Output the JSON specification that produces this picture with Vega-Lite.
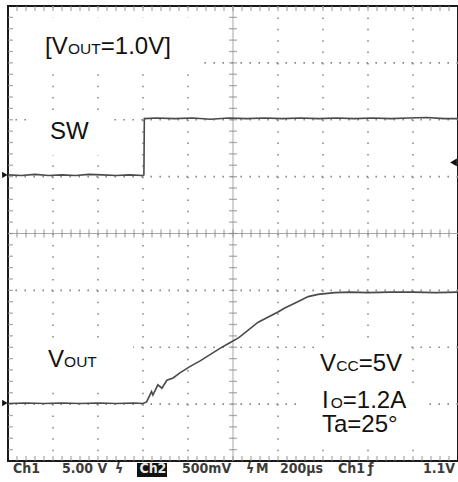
{
  "$schema": "https://vega.github.io/schema/vega-lite/v6.json",
  "width": 450,
  "height": 455,
  "autosize": {"type": "none"},
  "padding": {"left": 8, "top": 6, "right": 0, "bottom": 21},
  "background": "white",
  "config": {
    "view": {"stroke": "#1a1a1a", "strokeWidth": 2}
  },
  "datasets": {
    "vgrid": [{"x": 1}, {"x": 2}, {"x": 3}, {"x": 4}, {"x": 6}, {"x": 7}, {"x": 8}, {"x": 9}],
    "hgrid": [{"y": 1}, {"y": 2}, {"y": 3}, {"y": 5}, {"y": 6}, {"y": 7}],
    "centers": [{"x": 5, "y": 4}],
    "xt": [{"p":0.2},{"p":0.4},{"p":0.6},{"p":0.8},{"p":1},{"p":1.2},{"p":1.4},{"p":1.6},{"p":1.8},{"p":2},{"p":2.2},{"p":2.4},{"p":2.6},{"p":2.8},{"p":3},{"p":3.2},{"p":3.4},{"p":3.6},{"p":3.8},{"p":4},{"p":4.2},{"p":4.4},{"p":4.6},{"p":4.8},{"p":5.2},{"p":5.4},{"p":5.6},{"p":5.8},{"p":6},{"p":6.2},{"p":6.4},{"p":6.6},{"p":6.8},{"p":7},{"p":7.2},{"p":7.4},{"p":7.6},{"p":7.8},{"p":8},{"p":8.2},{"p":8.4},{"p":8.6},{"p":8.8},{"p":9},{"p":9.2},{"p":9.4},{"p":9.6},{"p":9.8},{"p":5}],
    "yt": [{"p":0.2},{"p":0.4},{"p":0.6},{"p":0.8},{"p":1},{"p":1.2},{"p":1.4},{"p":1.6},{"p":1.8},{"p":2},{"p":2.2},{"p":2.4},{"p":2.6},{"p":2.8},{"p":3},{"p":3.2},{"p":3.4},{"p":3.6},{"p":3.8},{"p":4.2},{"p":4.4},{"p":4.6},{"p":4.8},{"p":5},{"p":5.2},{"p":5.4},{"p":5.6},{"p":5.8},{"p":6},{"p":6.2},{"p":6.4},{"p":6.6},{"p":6.8},{"p":7},{"p":7.2},{"p":7.4},{"p":7.6},{"p":7.8},{"p":4}],
    "boxes": [
      {"x": 0.15, "x2": 4.2, "y": 7.8, "y2": 6.93},
      {"x": 0.53, "x2": 2.22, "y": 6.12, "y2": 5.38},
      {"x": 0.15, "x2": 2.78, "y": 2.09, "y2": 1.37},
      {"x": 6.82, "x2": 8.93, "y": 2.07, "y2": 1.34},
      {"x": 6.49, "x2": 9.22, "y": 1.34, "y2": 0.25}
    ],
    "traces": [
      {"ch": "SW", "t": 0, "v": 5.03}, {"ch": "SW", "t": 0.3, "v": 5.02}, {"ch": "SW", "t": 0.6, "v": 5.04},
      {"ch": "SW", "t": 0.9, "v": 5.02}, {"ch": "SW", "t": 1.2, "v": 5.03}, {"ch": "SW", "t": 1.5, "v": 5.02},
      {"ch": "SW", "t": 1.8, "v": 5.04}, {"ch": "SW", "t": 2.1, "v": 5.03}, {"ch": "SW", "t": 2.4, "v": 5.02},
      {"ch": "SW", "t": 2.7, "v": 5.03}, {"ch": "SW", "t": 3.0, "v": 5.02}, {"ch": "SW", "t": 3.02, "v": 5.03},
      {"ch": "SW", "t": 3.03, "v": 6.02}, {"ch": "SW", "t": 3.3, "v": 6.03}, {"ch": "SW", "t": 3.7, "v": 6.02},
      {"ch": "SW", "t": 4.1, "v": 6.03}, {"ch": "SW", "t": 4.5, "v": 6.01}, {"ch": "SW", "t": 4.9, "v": 6.03},
      {"ch": "SW", "t": 5.3, "v": 6.02}, {"ch": "SW", "t": 5.7, "v": 6.03}, {"ch": "SW", "t": 6.1, "v": 6.02},
      {"ch": "SW", "t": 6.5, "v": 6.03}, {"ch": "SW", "t": 6.9, "v": 6.02}, {"ch": "SW", "t": 7.3, "v": 6.03},
      {"ch": "SW", "t": 7.7, "v": 6.02}, {"ch": "SW", "t": 8.1, "v": 6.03}, {"ch": "SW", "t": 8.5, "v": 6.02},
      {"ch": "SW", "t": 8.9, "v": 6.03}, {"ch": "SW", "t": 9.3, "v": 6.04}, {"ch": "SW", "t": 9.7, "v": 6.02},
      {"ch": "SW", "t": 10, "v": 6.02},
      {"ch": "VOUT", "t": 0, "v": 1.01}, {"ch": "VOUT", "t": 0.4, "v": 1.02}, {"ch": "VOUT", "t": 0.8, "v": 1.01},
      {"ch": "VOUT", "t": 1.2, "v": 1.02}, {"ch": "VOUT", "t": 1.6, "v": 1.01}, {"ch": "VOUT", "t": 2.0, "v": 1.02},
      {"ch": "VOUT", "t": 2.4, "v": 1.01}, {"ch": "VOUT", "t": 2.8, "v": 1.02}, {"ch": "VOUT", "t": 3.0, "v": 1.01},
      {"ch": "VOUT", "t": 3.08, "v": 1.04}, {"ch": "VOUT", "t": 3.19, "v": 1.22}, {"ch": "VOUT", "t": 3.22, "v": 1.16},
      {"ch": "VOUT", "t": 3.33, "v": 1.34}, {"ch": "VOUT", "t": 3.42, "v": 1.28}, {"ch": "VOUT", "t": 3.53, "v": 1.42},
      {"ch": "VOUT", "t": 3.67, "v": 1.46}, {"ch": "VOUT", "t": 3.82, "v": 1.55}, {"ch": "VOUT", "t": 4.04, "v": 1.66},
      {"ch": "VOUT", "t": 4.27, "v": 1.76}, {"ch": "VOUT", "t": 4.49, "v": 1.87}, {"ch": "VOUT", "t": 4.71, "v": 1.98},
      {"ch": "VOUT", "t": 4.93, "v": 2.08}, {"ch": "VOUT", "t": 5.13, "v": 2.17}, {"ch": "VOUT", "t": 5.56, "v": 2.44},
      {"ch": "VOUT", "t": 6.0, "v": 2.62}, {"ch": "VOUT", "t": 6.15, "v": 2.69}, {"ch": "VOUT", "t": 6.44, "v": 2.80},
      {"ch": "VOUT", "t": 6.67, "v": 2.89}, {"ch": "VOUT", "t": 6.89, "v": 2.93}, {"ch": "VOUT", "t": 7.26, "v": 2.96},
      {"ch": "VOUT", "t": 7.6, "v": 2.97}, {"ch": "VOUT", "t": 8.0, "v": 2.96}, {"ch": "VOUT", "t": 8.5, "v": 2.97},
      {"ch": "VOUT", "t": 9.0, "v": 2.97}, {"ch": "VOUT", "t": 9.5, "v": 2.96}, {"ch": "VOUT", "t": 10, "v": 2.97}
    ],
    "markersL": [{"x": -0.07, "y": 5.03}, {"x": -0.07, "y": 1.02}],
    "markersR": [{"x": 9.9, "y": 5.25}],
    "labels": [
      {"x": 0.822, "y": 7.156, "text": "[V"},
      {"x": 2.062, "y": 7.156, "text": "=1.0V]"},
      {"x": 0.933, "y": 5.661, "text": "SW"},
      {"x": 0.889, "y": 1.653, "text": "V"},
      {"x": 6.933, "y": 1.588, "text": "V"},
      {"x": 7.792, "y": 1.588, "text": "=5V"},
      {"x": 6.98, "y": 0.927, "text": "I"},
      {"x": 7.44, "y": 0.927, "text": "=1.2A"},
      {"x": 6.978, "y": 0.515, "text": "Ta=25°"}
    ],
    "subs": [
      {"x": 1.331, "y": 7.156, "text": "OUT"},
      {"x": 1.247, "y": 1.653, "text": "OUT"},
      {"x": 7.293, "y": 1.588, "text": "CC"},
      {"x": 7.17, "y": 0.927, "text": "O"}
    ],
    "status": [
      {"x": 0.111, "text": "Ch1"},
      {"x": 1.2, "text": "5.00 V"},
      {"x": 2.378, "text": "ϟ"},
      {"x": 3.867, "text": "500mV"},
      {"x": 5.289, "text": "ϟ"},
      {"x": 5.511, "text": "M"},
      {"x": 6.044, "text": "200µs"},
      {"x": 7.333, "text": "Ch1"},
      {"x": 8.0, "text": "ƒ"},
      {"x": 9.222, "text": "1.1V"}
    ],
    "revbox": [{"x": 2.867, "x2": 3.533, "y": -0.035, "y2": -0.281}],
    "revtext": [{"x": 2.92, "text": "Ch2"}]
  },
  "layer": [
    {
      "data": {"name": "vgrid"},
      "mark": {"type": "rule", "color": "#8a8a8a", "strokeWidth": 1.6, "strokeDash": [1.6, 9.775]},
      "encoding": {
        "x": {"field": "x", "type": "quantitative", "scale": {"domain": [0, 10], "nice": false, "zero": false}, "axis": null}
      }
    },
    {
      "data": {"name": "hgrid"},
      "mark": {"type": "rule", "color": "#8a8a8a", "strokeWidth": 1.6, "strokeDash": [1.6, 7.4]},
      "encoding": {
        "y": {"field": "y", "type": "quantitative", "scale": {"domain": [0, 8], "nice": false, "zero": false}, "axis": null}
      }
    },
    {
      "data": {"name": "centers"},
      "mark": {"type": "rule", "color": "#a8a8a8", "strokeWidth": 1},
      "encoding": {
        "x": {"field": "x", "type": "quantitative", "scale": {"domain": [0, 10], "nice": false, "zero": false}, "axis": null}
      }
    },
    {
      "data": {"name": "centers"},
      "mark": {"type": "rule", "color": "#a8a8a8", "strokeWidth": 1},
      "encoding": {
        "y": {"field": "y", "type": "quantitative", "scale": {"domain": [0, 8], "nice": false, "zero": false}, "axis": null}
      }
    },
    {
      "data": {"name": "xt"},
      "mark": {"type": "tick", "orient": "vertical", "color": "#8a8a8a", "thickness": 1.3, "size": 5, "yOffset": 2.5},
      "encoding": {
        "x": {"field": "p", "type": "quantitative", "scale": {"domain": [0, 10], "nice": false, "zero": false}, "axis": null},
        "y": {"datum": 8, "type": "quantitative", "scale": {"domain": [0, 8], "nice": false, "zero": false}, "axis": null}
      }
    },
    {
      "data": {"name": "xt"},
      "mark": {"type": "tick", "orient": "vertical", "color": "#8a8a8a", "thickness": 1.3, "size": 5, "yOffset": -2.5},
      "encoding": {
        "x": {"field": "p", "type": "quantitative", "scale": {"domain": [0, 10], "nice": false, "zero": false}, "axis": null},
        "y": {"datum": 0, "type": "quantitative", "scale": {"domain": [0, 8], "nice": false, "zero": false}, "axis": null}
      }
    },
    {
      "data": {"name": "xt"},
      "mark": {"type": "tick", "orient": "vertical", "color": "#8a8a8a", "thickness": 1.3, "size": 8},
      "encoding": {
        "x": {"field": "p", "type": "quantitative", "scale": {"domain": [0, 10], "nice": false, "zero": false}, "axis": null},
        "y": {"datum": 4, "type": "quantitative", "scale": {"domain": [0, 8], "nice": false, "zero": false}, "axis": null}
      }
    },
    {
      "data": {"name": "yt"},
      "mark": {"type": "tick", "orient": "horizontal", "color": "#8a8a8a", "thickness": 1.3, "size": 5, "xOffset": 2.5},
      "encoding": {
        "y": {"field": "p", "type": "quantitative", "scale": {"domain": [0, 8], "nice": false, "zero": false}, "axis": null},
        "x": {"datum": 0, "type": "quantitative", "scale": {"domain": [0, 10], "nice": false, "zero": false}, "axis": null}
      }
    },
    {
      "data": {"name": "yt"},
      "mark": {"type": "tick", "orient": "horizontal", "color": "#8a8a8a", "thickness": 1.3, "size": 8},
      "encoding": {
        "y": {"field": "p", "type": "quantitative", "scale": {"domain": [0, 8], "nice": false, "zero": false}, "axis": null},
        "x": {"datum": 5, "type": "quantitative", "scale": {"domain": [0, 10], "nice": false, "zero": false}, "axis": null}
      }
    },
    {
      "data": {"name": "boxes"},
      "mark": {"type": "rect", "color": "white"},
      "encoding": {
        "x": {"field": "x", "type": "quantitative", "scale": {"domain": [0, 10], "nice": false, "zero": false}, "axis": null},
        "x2": {"field": "x2"},
        "y": {"field": "y", "type": "quantitative", "scale": {"domain": [0, 8], "nice": false, "zero": false}, "axis": null},
        "y2": {"field": "y2"}
      }
    },
    {
      "data": {"name": "traces"},
      "mark": {"type": "line", "color": "#4a4a4a", "strokeWidth": 1.6},
      "encoding": {
        "x": {"field": "t", "type": "quantitative", "scale": {"domain": [0, 10], "nice": false, "zero": false}, "axis": null},
        "y": {"field": "v", "type": "quantitative", "scale": {"domain": [0, 8], "nice": false, "zero": false}, "axis": null},
        "detail": {"field": "ch"}
      }
    },
    {
      "data": {"name": "markersL"},
      "mark": {"type": "point", "shape": "triangle-right", "filled": true, "color": "#111", "size": 40, "opacity": 1},
      "encoding": {
        "x": {"field": "x", "type": "quantitative", "scale": {"domain": [0, 10], "nice": false, "zero": false}, "axis": null},
        "y": {"field": "y", "type": "quantitative", "scale": {"domain": [0, 8], "nice": false, "zero": false}, "axis": null}
      }
    },
    {
      "data": {"name": "markersR"},
      "mark": {"type": "point", "shape": "triangle-left", "filled": true, "color": "#111", "size": 60, "opacity": 1},
      "encoding": {
        "x": {"field": "x", "type": "quantitative", "scale": {"domain": [0, 10], "nice": false, "zero": false}, "axis": null},
        "y": {"field": "y", "type": "quantitative", "scale": {"domain": [0, 8], "nice": false, "zero": false}, "axis": null}
      }
    },
    {
      "data": {"name": "labels"},
      "mark": {"type": "text", "font": "Liberation Sans", "fontSize": 24, "color": "#111", "align": "left", "baseline": "alphabetic"},
      "encoding": {
        "x": {"field": "x", "type": "quantitative", "scale": {"domain": [0, 10], "nice": false, "zero": false}, "axis": null},
        "y": {"field": "y", "type": "quantitative", "scale": {"domain": [0, 8], "nice": false, "zero": false}, "axis": null},
        "text": {"field": "text"}
      }
    },
    {
      "data": {"name": "subs"},
      "mark": {"type": "text", "font": "Liberation Sans", "fontSize": 15.5, "color": "#111", "align": "left", "baseline": "alphabetic"},
      "encoding": {
        "x": {"field": "x", "type": "quantitative", "scale": {"domain": [0, 10], "nice": false, "zero": false}, "axis": null},
        "y": {"field": "y", "type": "quantitative", "scale": {"domain": [0, 8], "nice": false, "zero": false}, "axis": null},
        "text": {"field": "text"}
      }
    },
    {
      "data": {"name": "revbox"},
      "mark": {"type": "rect", "color": "#111"},
      "encoding": {
        "x": {"field": "x", "type": "quantitative", "scale": {"domain": [0, 10], "nice": false, "zero": false}, "axis": null},
        "x2": {"field": "x2"},
        "y": {"field": "y", "type": "quantitative", "scale": {"domain": [0, 8], "nice": false, "zero": false}, "axis": null},
        "y2": {"field": "y2"}
      }
    },
    {
      "data": {"name": "status"},
      "mark": {"type": "text", "font": "Liberation Sans Narrow, DejaVu Sans Condensed, Liberation Sans", "fontWeight": "bold", "fontSize": 14, "color": "#3c3c3c", "align": "left", "baseline": "alphabetic"},
      "encoding": {
        "x": {"field": "x", "type": "quantitative", "scale": {"domain": [0, 10], "nice": false, "zero": false}, "axis": null},
        "y": {"datum": -0.211, "type": "quantitative", "scale": {"domain": [0, 8], "nice": false, "zero": false}, "axis": null},
        "text": {"field": "text"}
      }
    },
    {
      "data": {"name": "revtext"},
      "mark": {"type": "text", "font": "Liberation Sans Narrow, DejaVu Sans Condensed, Liberation Sans", "fontWeight": "bold", "fontSize": 14, "color": "#e8e8e8", "align": "left", "baseline": "alphabetic"},
      "encoding": {
        "x": {"field": "x", "type": "quantitative", "scale": {"domain": [0, 10], "nice": false, "zero": false}, "axis": null},
        "y": {"datum": -0.211, "type": "quantitative", "scale": {"domain": [0, 8], "nice": false, "zero": false}, "axis": null},
        "text": {"field": "text"}
      }
    }
  ]
}
